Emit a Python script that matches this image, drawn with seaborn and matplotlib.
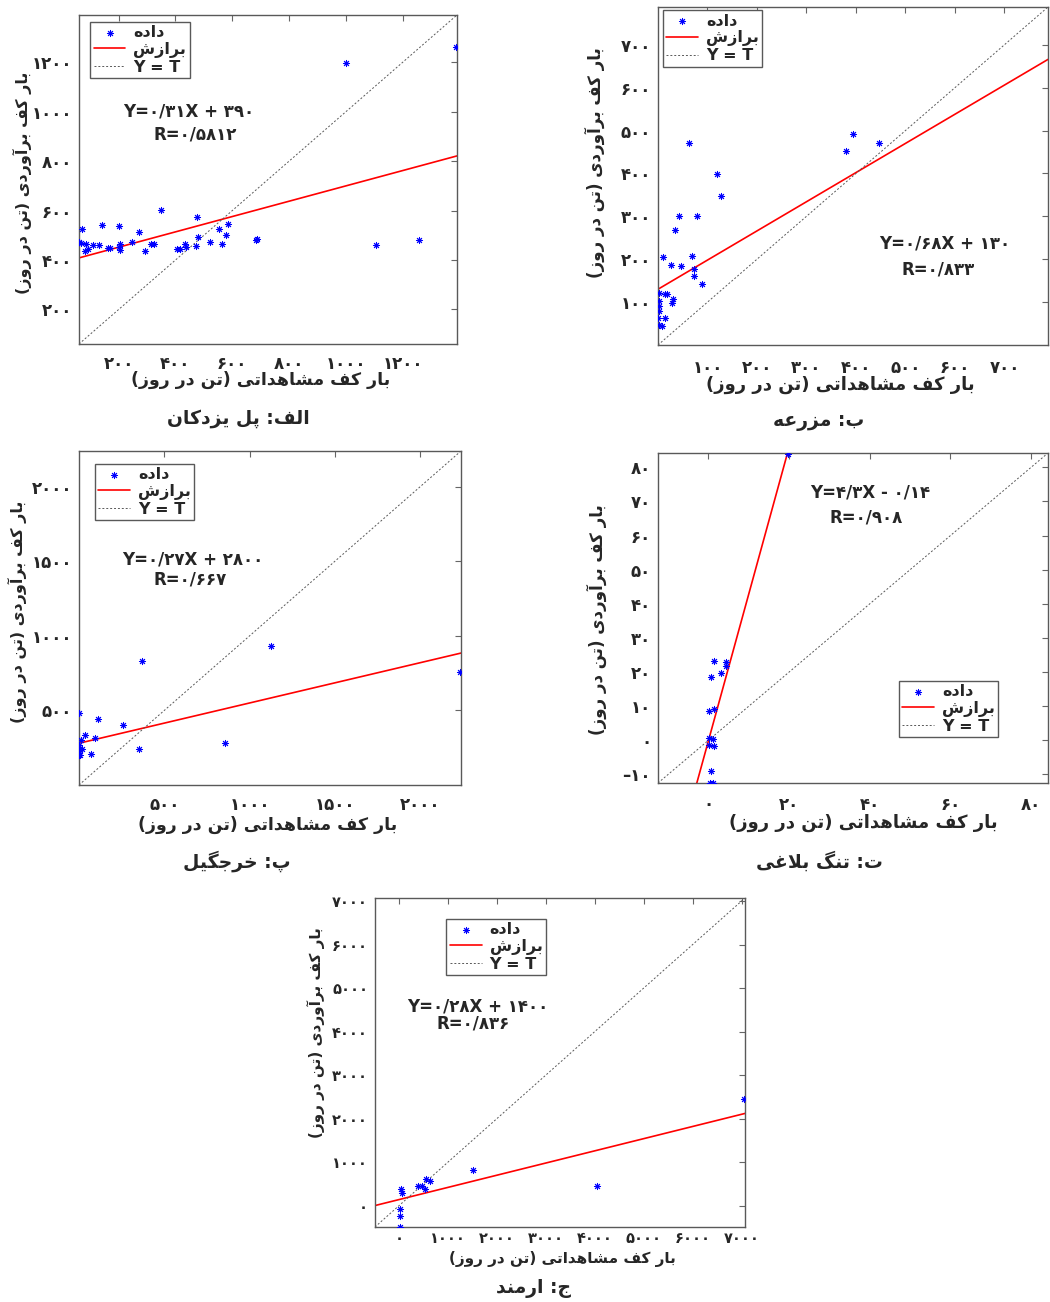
import numpy as np
import matplotlib
matplotlib.use("Agg")
import matplotlib.pyplot as plt
import seaborn as sns

# --- data ---
obs_yazdakan = [1390, 1000, 1107, 1259, 682, 686, 348, 475, 585, 554, 579, 479, 472, 521, 564,
                432, 438, 404, 416, 325, 315, 293, 272, 248, 200, 206, 206, 201, 161, 168,
                140, 129, 109, 92, 82, 69, 68, 59, 84]
est_yazdakan = [1264, 1197, 459, 483, 481, 484, 603, 576, 544, 526, 501, 493, 455, 473, 464,
                463, 454, 443, 443, 464, 466, 436, 514, 472, 538, 463, 440, 454, 447, 450,
                541, 460, 460, 443, 436, 527, 470, 471, 463]

obs_mazraeh = [62, 119, 128, 43, 78, 34, 68, 380, 395, 446, 10, 26, 47, 72, 72, 89, 2, 14,
               19, 30, 29, 2, 2, 2, 0, 14, 3, 8]
est_mazraeh = [470, 398, 348, 300, 301, 268, 207, 452, 493, 471, 206, 187, 184, 178, 160, 142,
               122, 118, 118, 108, 97, 102, 91, 79, 62, 62, 46, 44]

obs_kharjgil = [2235, 1124, 370, 856, 350, 258, 114, 93, 35, 14, 2, 69, 2, 20, 2, 3, 8, 1]
est_kharjgil = [760, 931, 831, 284, 240, 404, 440, 316, 333, 304, 485, 209, 271, 244, 227,
                204, 236, 200]

obs_balaghi = [19.8, 1.5, 4.3, 4.3, 3.0, 0.7, 1.5, 0.2, 0.2, 1.1, 0.2, 1.3, 0.7, 0.4, 1.1]
est_balaghi = [84.0, 23.2, 23.0, 21.8, 19.7, 18.5, 9.3, 8.6, 0.8, 0.5, -1.5, -1.7, -8.9,
               -12.4, -12.5]

obs_armand = [7050, 1517, 4041, 558, 639, 381, 476, 524, 41, 61, 14, 14, 14]
est_armand = [2441, 819, 451, 604, 566, 459, 451, 390, 383, 298, -84, -237, -497]

slopes = [0.31, 0.68, 0.27, 4.3, 0.28]
intercepts = [390, 130, 280, -0.14, 140]

eq_texts = ["Y=۰/۳۱X + ۳۹۰", "Y=۰/۶۸X + ۱۳۰", "Y=۰/۲۷X + ۲۸۰۰", "Y=۴/۳X - ۰/۱۴", "Y=۰/۲۸X + ۱۴۰۰"]
r_texts = ["R=۰/۵۸۱۲", "R=۰/۸۳۳", "R=۰/۶۶۷", "R=۰/۹۰۸", "R=۰/۸۳۶"]
titles = ["الف: پل یزدکان", "ب: مزرعه", "پ: خرجگیل", "ت: تنگ بلاغی", "ج: ارمند"]
xlabel = "بار کف مشاهداتی (تن در روز)"
ylabel = "بار کف برآوردی (تن در روز)"
legend_labels = ["داده", "برازش", "Y = T"]

x_ticks = [[200, 400, 600, 800, 1000, 1200], [100, 200, 300, 400, 500, 600, 700],
           [500, 1000, 1500, 2000], [0, 20, 40, 60, 80],
           [0, 1000, 2000, 3000, 4000, 5000, 6000, 7000]]
y_ticks = [[200, 400, 600, 800, 1000, 1200], [100, 200, 300, 400, 500, 600, 700],
           [500, 1000, 1500, 2000], [-10, 0, 10, 20, 30, 40, 50, 60, 70, 80],
           [0, 1000, 2000, 3000, 4000, 5000, 6000, 7000]]
limits = [(60, 1392), (0, 788), (0, 2240), (-12.5, 84.2), (-490, 7070)]

# --- persian shaping (matplotlib has no text shaping) ---
FORMS = {
    'ا': ('\uFE8D', '\uFE8E', None, None), 'آ': ('\uFE81', '\uFE82', None, None),
    'د': ('\uFEA9', '\uFEAA', None, None), 'ر': ('\uFEAD', '\uFEAE', None, None),
    'ز': ('\uFEAF', '\uFEB0', None, None), 'و': ('\uFEED', '\uFEEE', None, None),
    'ب': ('\uFE8F', '\uFE90', '\uFE91', '\uFE92'), 'ت': ('\uFE95', '\uFE96', '\uFE97', '\uFE98'),
    'ج': ('\uFE9D', '\uFE9E', '\uFE9F', '\uFEA0'), 'خ': ('\uFEA5', '\uFEA6', '\uFEA7', '\uFEA8'),
    'ش': ('\uFEB5', '\uFEB6', '\uFEB7', '\uFEB8'), 'ع': ('\uFEC9', '\uFECA', '\uFECB', '\uFECC'),
    'غ': ('\uFECD', '\uFECE', '\uFECF', '\uFED0'), 'ف': ('\uFED1', '\uFED2', '\uFED3', '\uFED4'),
    'ل': ('\uFEDD', '\uFEDE', '\uFEDF', '\uFEE0'), 'م': ('\uFEE1', '\uFEE2', '\uFEE3', '\uFEE4'),
    'ن': ('\uFEE5', '\uFEE6', '\uFEE7', '\uFEE8'), 'ه': ('\uFEE9', '\uFEEA', '\uFEEB', '\uFEEC'),
    'پ': ('\uFB56', '\uFB57', '\uFB58', '\uFB59'), 'گ': ('\uFB92', '\uFB93', '\uFB94', '\uFB95'),
    'ک': ('\uFB8E', '\uFB8F', '\uFB90', '\uFB91'), 'ی': ('\uFBFC', '\uFBFD', '\uFBFE', '\uFBFF'),
}
LAM_ALEF = {'ا': ('\uFEFB', '\uFEFC'), 'آ': ('\uFEF5', '\uFEF6')}


def joins_left(c):
    return c in FORMS and FORMS[c][2] is not None


def fa(text):
    out = []
    i = 0
    while i < len(text):
        c = text[i]
        if c not in FORMS:
            out.append(c)
            i += 1
            continue
        prev_joins = i > 0 and joins_left(text[i - 1])
        if c == 'ل' and i + 1 < len(text) and text[i + 1] in LAM_ALEF:
            lig = LAM_ALEF[text[i + 1]]
            out.append(lig[1] if prev_joins else lig[0])
            i += 2
            continue
        nxt = text[i + 1] if i + 1 < len(text) else ''
        next_joins = joins_left(c) and nxt in FORMS
        iso, fin, ini, med = FORMS[c]
        if prev_joins and next_joins:
            out.append(med)
        elif prev_joins:
            out.append(fin)
        elif next_joins:
            out.append(ini)
        else:
            out.append(iso)
        i += 1
    return ''.join(out)[::-1].translate(str.maketrans('()', ')('))


def fa_num(v):
    return str(v).translate(str.maketrans('0123456789-', '۰۱۲۳۴۵۶۷۸۹–'))


sns.set_style("white")
plt.rcParams['font.family'] = ['DejaVu Sans']

W, H = 1050, 1302
fig = plt.figure(figsize=(W / 100, H / 100), dpi=100)


def px_rect(l, t, r, b):
    return [l / W, 1 - b / H, (r - l) / W, (b - t) / H]


def fxy(x, y):
    return x / W, 1 - y / H


# pixel boxes of the axes
boxes = [(79, 15, 457, 344), (658, 7, 1048, 345), (79, 451, 461, 785),
         (658, 453, 1048, 783), (375, 898, 745, 1227)]
obs_all = [obs_yazdakan, obs_mazraeh, obs_kharjgil, obs_balaghi, obs_armand]
est_all = [est_yazdakan, est_mazraeh, est_kharjgil, est_balaghi, est_armand]
eq_pos = [(0.289, 0.706, 0.307, 0.638), (0.736, 0.301, 0.719, 0.224), (0.298, 0.674, 0.29, 0.614),
          (0.543, 0.879, 0.534, 0.805), (0.279, 0.669, 0.266, 0.619)]
leg_pos = [(0.03, 0.98), (0.012, 0.99), (0.042, 0.962), (0.617, 0.31), (0.193, 0.937)]
xlab_pos = [(261, 380), (840, 385), (268, 825), (863, 823), (562, 1259)]
ylab_pos = [(22, 183), (595, 163), (17, 612), (597, 620), (316, 1033)]
title_pos = [(238, 418), (819, 421), (237, 861), (819, 861), (534, 1289)]
xlab_size = [12.5, 13, 12.5, 13, 11]
ylab_size = [11.5, 12, 11.5, 12, 11]
tick_size = [12, 12, 12, 12, 10.5]
tick_pad = [8, 10, 8, 9, 3]

for k in range(5):
    ax = fig.add_axes(px_rect(*boxes[k]))
    lo, hi = limits[k]
    ax.set_xlim(lo, hi)
    ax.set_ylim(lo, hi)

    sns.scatterplot(x=obs_all[k], y=est_all[k], marker=(8, 2, 0), s=20, color='blue',
                    linewidth=0.7, ax=ax, label=fa(legend_labels[0]), zorder=3)
    xs = np.array([lo, hi])
    ax.plot(xs, slopes[k] * xs + intercepts[k], color='red', lw=1.2, label=fa(legend_labels[1]))
    ax.plot(xs, xs, color='0.35', lw=0.7, ls=(0, (2, 2)), label=legend_labels[2])

    ax.set_xticks(x_ticks[k])
    ax.set_yticks(y_ticks[k])
    ax.set_xticklabels([fa_num(v) for v in x_ticks[k]], fontweight='bold', fontsize=tick_size[k])
    ax.set_yticklabels([fa_num(v) for v in y_ticks[k]], fontweight='bold', fontsize=tick_size[k])
    ax.tick_params(direction='in', top=True, right=True, length=4, color='0.4')
    ax.tick_params(axis='x', pad=tick_pad[k])
    ax.tick_params(axis='y', pad=5)
    for sp in ax.spines.values():
        sp.set_color('0.35')
        sp.set_linewidth(1.0)

    ax.text(eq_pos[k][0], eq_pos[k][1], eq_texts[k], transform=ax.transAxes, ha='center',
            va='center', fontsize=12, fontweight='bold')
    ax.text(eq_pos[k][2], eq_pos[k][3], r_texts[k], transform=ax.transAxes, ha='center',
            va='center', fontsize=12, fontweight='bold')

    leg = ax.legend(loc='upper left', bbox_to_anchor=leg_pos[k],
                    prop={'weight': 'bold', 'size': 11.5}, frameon=True, fancybox=False,
                    edgecolor='0.35', framealpha=1, borderpad=0.2, labelspacing=0.12,
                    handlelength=2.0, handletextpad=0.5, borderaxespad=0)
    leg.get_frame().set_linewidth(1.0)

    fig.text(*fxy(*xlab_pos[k]), fa(xlabel), ha='center', va='center',
             fontsize=xlab_size[k], fontweight='bold')
    fig.text(*fxy(*ylab_pos[k]), fa(ylabel), ha='center', va='center', rotation=90,
             fontsize=ylab_size[k], fontweight='bold')
    fig.text(*fxy(*title_pos[k]), fa(titles[k]), ha='center', va='center',
             fontsize=13.5, fontweight='bold')

fig.savefig('out.png', dpi=100)
